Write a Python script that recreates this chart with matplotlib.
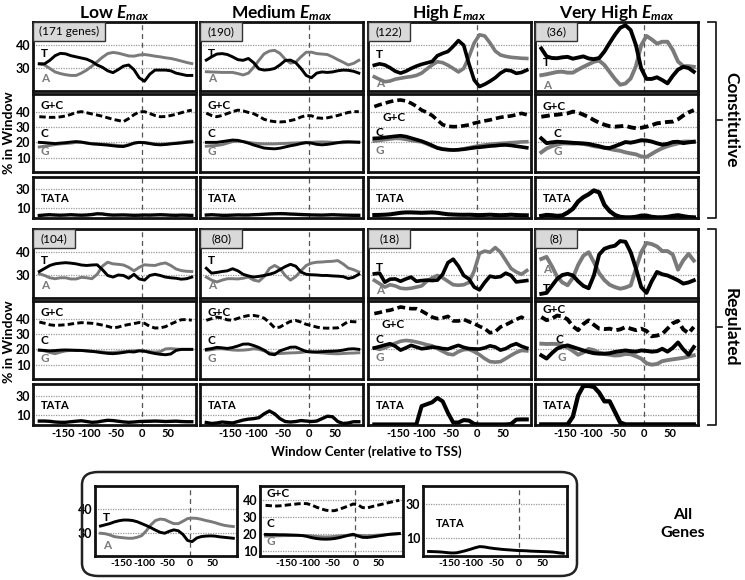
import numpy as np
import matplotlib
matplotlib.use('Agg')
import matplotlib.pyplot as plt
from matplotlib.patches import Rectangle, FancyBboxPatch
from matplotlib.lines import Line2D

# --- fonts ---
plt.rcParams['font.family'] = ['Lato', 'DejaVu Sans']
plt.rcParams['mathtext.fontset'] = 'custom'
plt.rcParams['mathtext.it'] = 'Lato:italic:bold'
plt.rcParams['mathtext.rm'] = 'Lato:bold'

# --- data: window centers (relative to TSS) ---
X = np.arange(-195, 100, 10)

COLUMNS = ['Low', 'Medium', 'High', 'Very High']
COUNTS_CONST = ['(171 genes)', '(190)', '(122)', '(36)']
COUNTS_REG = ['(104)', '(80)', '(18)', '(8)']
XTICKS = [-150, -100, -50, 0, 50]

# Constitutive, Low Emax
CONST_LOW_T = [32, 32, 33.5, 35.5, 36.5, 36.3, 35.5, 35, 34.5, 34, 33, 31.5, 30.5, 29, 28.2,
               29.5, 31, 31.5, 29.5, 26, 24.5, 27.5, 29.3, 29.3, 29.3, 29, 28, 27.5, 27, 27]
CONST_LOW_A = [32, 31.5, 30, 28.5, 27.8, 27.3, 27, 27, 28, 29.3, 31, 32.9, 34.8, 36.4, 36.9,
               36.6, 36, 35.4, 35.3, 35.8, 36, 35.7, 35.3, 35, 34.6, 34.3, 33.8, 33.2, 32.6, 32.1]
CONST_LOW_GC = [36.7, 36.5, 36.3, 36.3, 36.6, 37.2, 38.2, 39.5, 40, 39.3, 38.5, 37.8, 37, 36, 35,
                34.3, 33.5, 35.5, 38, 39.8, 40, 38.8, 37.5, 36.7, 36.8, 37.5, 38.3, 39.3, 40.3, 41]
CONST_LOW_C = [20, 19.8, 19.5, 19.2, 19.5, 19.8, 20.2, 20.5, 20.2, 19.6, 19, 18.8, 18.5, 18.2, 17.8,
               17.4, 17.3, 18.2, 19.5, 20, 19.8, 19.2, 18.6, 18.4, 18.6, 19, 19.3, 19.6, 20, 20.3]
CONST_LOW_G = [17, 17.5, 18, 18.6, 19, 19.2, 19.5, 20, 20, 19.5, 19.2, 19, 18.8, 18.6, 18.3,
               18, 17.8, 18.5, 19.5, 20, 19.8, 19.5, 19, 18.8, 19, 19.3, 19.6, 20, 20.5, 20.8]
CONST_LOW_TATA = [2, 2.5, 2.8, 2.5, 2.3, 2.5, 2.8, 2.5, 2.3, 2.5, 3, 3.8, 3.6, 2.8, 2.4,
                  2.5, 2.6, 2.4, 2.2, 2.3, 2.5, 2.4, 2.6, 2.8, 2.6, 2.3, 2.2, 2.4, 2.3, 2.1]

# Constitutive, Medium Emax
CONST_MED_T = [33.6, 35, 36.2, 36.4, 36, 35, 33.8, 33.5, 34.3, 32.5, 29.8, 29.3, 29.5, 30, 31.5,
               33.4, 33.6, 32.5, 30, 27, 26, 28, 28.5, 28.3, 28.5, 29, 29.3, 29.2, 28.8, 28]
CONST_MED_A = [28.6, 28.5, 28.4, 28.3, 28.3, 28.3, 27.8, 27.2, 28, 30.5, 33.5, 36.3, 37.5, 37.8, 36.5,
               34, 32.3, 32.7, 35, 37, 37, 36.4, 36.2, 36, 35, 33.8, 32.7, 31.5, 32.2, 33.5]
CONST_MED_GC = [39, 37.5, 36.7, 37.5, 38.8, 40, 41, 40.5, 39.5, 38.7, 37, 35, 34, 33.5, 33.3,
                33.5, 34.2, 35, 36.5, 37.5, 37.3, 36, 35.7, 36, 36.7, 37.5, 38.5, 39.5, 40, 40]
CONST_MED_C = [20, 20, 20, 20.5, 21, 21.5, 21.3, 20.5, 19.5, 18.3, 17.3, 16.3, 16, 15.8, 16.2,
               17, 17.8, 18.4, 19.2, 19.8, 19.5, 18.7, 18.4, 18.7, 19.2, 19.8, 20.3, 20.4, 20.2, 20]
CONST_MED_G = [17.5, 17.8, 18, 18.5, 19.5, 20.5, 20.8, 20.5, 20, 19.5, 19.2, 19, 19, 19, 19.2,
               19.3, 19.5, 19.6, 19.8, 20, 20, 20.2, 20.3, 20.2, 20, 19.8, 19.8, 20, 20.2, 20.3]
CONST_MED_TATA = [2.5, 2.8, 2.5, 2.2, 2.2, 2.4, 2.6, 2.5, 2.5, 2.8, 3, 3.3, 3.6, 3.8, 3.9,
                  3.8, 3.5, 3.3, 3, 2.8, 2.6, 2.5, 2.4, 2.6, 2.8, 2.6, 2.4, 2.3, 2.2, 2.2]

# Constitutive, High Emax
CONST_HIGH_T = [31.4, 32, 31.5, 30.3, 28.8, 28, 28.8, 30, 31, 31.8, 32.4, 33, 35.5, 36.5, 37.3,
                39.5, 42, 40, 32, 25, 22.2, 23.2, 24.5, 26, 28, 29.3, 29, 27.9, 28.3, 29.3]
CONST_HIGH_A = [26.4, 25.3, 24.3, 24.6, 25.4, 25.8, 26.2, 26.5, 27, 28, 29.8, 31.5, 32.9, 32.5, 31.4,
                30, 28.5, 30, 35, 41, 44.5, 44, 41, 37.5, 35.8, 35.2, 34.8, 34.6, 34.4, 34.3]
CONST_HIGH_GC = [43.3, 44.5, 45.5, 46.5, 47.3, 47.6, 47, 45.5, 43.5, 41, 39.5, 37.5, 34.5, 31.5, 30.5,
                 30.2, 30.3, 30.8, 31.4, 32.5, 33.3, 34, 34.6, 35.5, 36.3, 36.8, 37.2, 38, 38.9, 38]
CONST_HIGH_C = [22.6, 22.8, 23.2, 23.6, 24, 24.3, 23.8, 22.8, 21.8, 20.8, 19.5, 18, 16.3, 15.5, 15.2,
                15, 15.2, 15.5, 16, 16.5, 16.8, 17.2, 17.6, 17.8, 18.2, 18.3, 18, 17.5, 17, 16.5]
CONST_HIGH_G = [20.9, 21.3, 21.8, 22.2, 22.6, 22.5, 22, 21.3, 20.8, 20.3, 19, 17.5, 16.5, 15.8, 15.3,
                15, 15.2, 15.8, 16.5, 17.2, 17.8, 18.3, 18.7, 19, 19.3, 19.5, 19.8, 20, 20.3, 20.4]
CONST_HIGH_TATA = [2.5, 2.6, 2.8, 3.2, 4, 4.8, 5.2, 5.2, 5, 4.8, 5, 5.2, 4.8, 4, 3.3,
                   3, 2.8, 2.7, 2.8, 2.6, 2.4, 2.6, 2.8, 2.5, 2.3, 2.5, 2.8, 2.5, 2.3, 2.2]

# Constitutive, Very High Emax
CONST_VH_T = [38.6, 35.2, 34.5, 34.4, 34.8, 35, 34.2, 34.7, 35.2, 34.3, 34, 34.5, 37.3, 41, 44.5,
              47.5, 48.6, 46.5, 40, 30, 25.5, 25.5, 26.2, 25, 23.6, 26.8, 29.5, 30.7, 30.2, 28.6]
CONST_VH_A = [27.1, 27.5, 28, 28.5, 28.6, 28.2, 28.2, 29.5, 30.7, 31.8, 32.9, 33.4, 31.5, 28.5, 25.5,
              23, 23.5, 25.7, 31, 40, 44, 42.5, 40.7, 41.5, 41.5, 38, 33, 31, 31, 30.7]
CONST_VH_GC = [36.7, 37.2, 37.8, 38, 38.5, 38.9, 40, 39.5, 38, 36.5, 34.5, 32.8, 31.5, 30.5, 30.2,
               30.5, 30.8, 29.8, 29.2, 29.5, 30.2, 31.2, 32.4, 32.8, 33.3, 33.5, 35, 37.5, 39.5, 41]
CONST_VH_C = [22.6, 19.5, 20, 20.4, 20.2, 20, 19.7, 19.5, 19.3, 19, 18.2, 17.5, 16.5, 16.3, 17.5,
              18.8, 20.2, 19.8, 20.5, 21.4, 21.2, 20.5, 19.4, 18.5, 19, 20.2, 20.4, 19.5, 20, 20.4]
CONST_VH_G = [13.5, 16, 17.5, 18.5, 19.3, 19.3, 19.2, 19.3, 19, 18.3, 17.5, 17, 16.5, 15.7, 15,
              14.5, 13.5, 12.8, 12.2, 10.8, 10.5, 12.5, 14.5, 16.2, 17.5, 18.5, 19.3, 20.5, 20.5, 20.4]
CONST_VH_TATA = [1.5, 2.5, 2.2, 1.5, 2, 5, 9, 16.5, 21, 24, 28, 26, 13, 6.5, 2.5,
                 0.5, 0, 0, 0.5, 1.8, 1.8, 0.5, 0, 0, 0.5, 1.5, 2.2, 1.2, 0.3, 0]

# Regulated, Low Emax
REG_LOW_T = [31.7, 33, 34.3, 35, 35.3, 35.5, 35.3, 35, 34.5, 34.3, 34.5, 34.6, 32.5, 30, 29.3,
             30.2, 30, 28.8, 30.5, 28.5, 28, 30, 30.5, 30, 29.3, 29, 28.8, 28.4, 28.6, 29.3]
REG_LOW_A = [30.7, 30, 29, 28.6, 29, 29, 28.5, 28.5, 29.2, 29, 28.6, 30.5, 34, 35.7, 35,
             34.8, 34.5, 33.5, 32, 33.5, 34.6, 34.4, 34.3, 35, 35.4, 34.3, 32.8, 32.1, 31.8, 31.7]
REG_LOW_GC = [37.8, 37, 36, 35.6, 35.8, 36, 36.5, 37, 37.4, 37.2, 37, 36.5, 35.8, 35, 34,
              34.5, 35.5, 36.2, 36.8, 37.5, 37, 35, 33.9, 34, 34.8, 36.5, 38, 39.3, 39.4, 39]
REG_LOW_C = [19.5, 19.3, 19, 19.2, 19.5, 19.6, 19.5, 19.3, 19.3, 19, 18.7, 18.3, 17.8, 17.4, 17.2,
             17.5, 18, 18.5, 18.3, 19, 18.8, 18, 17.3, 16.8, 16.5, 17, 19.3, 20, 20, 20]
REG_LOW_G = [19.5, 19, 18, 17.2, 18.2, 19, 19.3, 19.5, 19.3, 19, 18.7, 18.5, 18.3, 18, 18,
             18.3, 18.5, 18.8, 19, 19.3, 19, 18.5, 18.2, 18.5, 20.3, 20.5, 20.2, 20, 20, 20]
REG_LOW_TATA = [3.5, 3.5, 3.2, 2.5, 2.2, 2.2, 2.8, 3.3, 3.8, 3, 2.2, 2.5, 3.5, 4.3, 4,
                3.3, 2.6, 2.2, 2.5, 3, 3.2, 3.3, 3.5, 3.3, 3, 3.2, 3.4, 3, 2.8, 2.8]

# Regulated, Medium Emax
REG_MED_T = [33.1, 31, 31.3, 31.7, 32, 32.9, 32, 30.5, 29.8, 29.3, 29.6, 30, 30.5, 31.2, 32.5,
             33.8, 34.8, 34, 31.5, 30.5, 30.3, 30.2, 30, 30, 29.8, 29.7, 29.5, 28.7, 29.2, 30.5]
REG_MED_A = [29.3, 28, 27.2, 28, 28.6, 28.6, 28.5, 28.8, 29.3, 28, 27.5, 29.5, 33, 34.3, 33,
             30, 28, 29.5, 32, 34.3, 35.3, 35.7, 35.8, 36, 36.1, 36.4, 35, 33.2, 32.5, 31.5]
REG_MED_GC = [38.9, 40, 41, 40.5, 39.2, 39, 40.2, 41.3, 42, 42.1, 41.5, 40.3, 37.5, 34, 34.5,
              36.5, 38.2, 38.8, 37.8, 36.3, 35.5, 34.5, 33.9, 33.8, 33.9, 34, 36, 38.2, 38, 37.8]
REG_MED_C = [20, 20.5, 21.3, 21, 20.6, 21.2, 22.2, 23.4, 23.5, 22.5, 21.2, 19.5, 17, 16.5, 19,
             20.2, 21.4, 21.5, 20, 18.6, 18.3, 18.3, 18.5, 18.7, 18.8, 19, 19.5, 20.2, 20.4, 20]
REG_MED_G = [19.3, 19.8, 20.3, 20.4, 20, 19.6, 19.4, 19.5, 19.8, 20.4, 20, 19, 17.8, 17.2, 17.3,
             17.5, 17.7, 17.8, 18, 18.5, 18.4, 18, 17.7, 17.4, 17.2, 17.1, 17.3, 17.5, 17.6, 17.8]
REG_MED_TATA = [2, 1, 1.5, 2.5, 2, 1.5, 3, 4.5, 5.5, 6, 7, 11, 14, 11, 6,
                3, 2.5, 3, 4, 3.5, 3, 3.5, 6, 8.5, 8, 3, 1, 1.5, 2.8, 2.8]

# Regulated, High Emax
REG_HIGH_T = [30.7, 31, 27.1, 28.4, 28.5, 27.5, 28.5, 29.3, 27.5, 27.8, 28, 27.8, 28, 30.5, 35.5,
              37, 34, 30, 28.5, 25, 23.8, 27, 29.7, 29.2, 29.5, 31, 30, 27.2, 27.5, 27.8]
REG_HIGH_A = [27.9, 26.5, 25, 26, 25.5, 24.5, 24.3, 24.5, 25, 25.5, 27.5, 29, 30, 29, 27.5,
              26, 25.8, 26, 27, 32, 39.5, 40.5, 40, 42, 40, 36.5, 33, 31.5, 30.5, 32.1]
REG_HIGH_GC = [43.3, 44, 45, 45.5, 46.5, 47.6, 47, 46.5, 46.5, 45, 43, 41, 40, 40.5, 41.5,
               38.5, 38.5, 39.5, 38, 36.7, 35, 33.5, 30.8, 31.5, 34.6, 36, 37.8, 39.5, 41, 39]
REG_HIGH_C = [20.9, 21.8, 22.8, 23.7, 22, 19.5, 21, 22.6, 21.5, 20.4, 20.8, 21.5, 21.2, 20.5, 20.2,
              21.5, 22.6, 21.3, 20.5, 20.3, 20.2, 21, 22.3, 21.5, 19.5, 20.5, 22.5, 23.7, 22, 20.8]
REG_HIGH_G = [20.9, 20, 21, 22.5, 24, 25.3, 25.8, 25.5, 24.8, 24, 23, 22.3, 20.5, 18.7, 17,
              16.5, 18.5, 19.8, 20, 18.5, 16.5, 14, 12, 11.7, 12, 14, 16.1, 18, 19.3, 19]
REG_HIGH_TATA = [0, 0, 0, 0, 0, 0, 0, 0, 0, 19, 21, 23, 27.5, 24, 12,
                 2, 2, 4.5, 4, 0.5, 0, 0, 0, 0, 0, 0, 0.5, 5, 5.2, 5.2]

# Regulated, Very High Emax
REG_VH_T = [22.1, 22.5, 25.5, 28.5, 30.2, 30.7, 30, 27.5, 25.5, 24.5, 30, 39, 41.5, 42.3, 42.8,
            44.8, 44.5, 40, 33, 25, 22.5, 27.5, 31.5, 30.5, 30, 29, 27.9, 26.5, 27, 27.9]
REG_VH_A = [37.1, 38, 34, 29.5, 27, 25.8, 29, 34.5, 38.5, 40, 35.7, 31, 28, 26, 25,
            24.3, 24.8, 25.7, 33, 40, 44, 43.5, 42.5, 40.5, 40.5, 39, 32.5, 36.5, 39.3, 36.4]
REG_VH_GC = [41.1, 39, 40, 42, 41.5, 39.5, 35, 32.5, 36.5, 38.9, 36, 33.5, 33.2, 33.5, 32.4,
             33, 34.5, 33.5, 32.5, 33.5, 32, 28.5, 29, 30, 33.5, 37, 38.5, 33, 30.5, 34.6]
REG_VH_C = [16.1, 14, 17.5, 20.5, 21.8, 22.6, 21.5, 20.4, 19.3, 18.3, 17.5, 17.2, 17.2, 17.5, 18.3,
            18.8, 19.3, 18.8, 18.5, 19.3, 19, 18.5, 18.8, 20.4, 18.5, 21, 24.5, 20, 16.5, 21.5]
REG_VH_G = [23.7, 23.5, 23.6, 23.5, 22.5, 21.2, 19, 16.5, 18, 20.3, 19.5, 17.8, 17, 16.5, 16,
            16.2, 17, 16.8, 15.5, 14, 11, 10, 10.5, 12.3, 13, 13.5, 14, 14.5, 15.3, 16.1]
REG_VH_TATA = [0, 0, 0, 0, 0, 0, 8, 30, 40, 40, 39, 33, 24, 24, 13,
               2, 0, 0, 0, 0, 0, 0, 0, 0, 0, 0, 0, 0, 0, 0]

# All genes
ALL_T = [33, 33.5, 34, 34.7, 35.2, 35.5, 35.5, 35.3, 34.8, 34, 33.2, 32.3, 31.3, 30.4, 30,
         30.8, 31.4, 31, 29.5, 27, 26.5, 28, 28.6, 28.8, 28.9, 28.8, 28.5, 28.3, 28.1, 27.9]
ALL_A = [30, 29.8, 29.3, 28.6, 28.3, 28.1, 27.9, 27.9, 28.3, 29, 31, 33.5, 35.3, 35.9, 35.7,
         34.8, 34, 34, 35, 36.1, 36.3, 36.2, 35.8, 35.3, 34.9, 34.4, 33.8, 33.3, 33, 32.8]
ALL_GC = [36.8, 36.6, 36.4, 36.5, 36.8, 37.1, 37.4, 37.7, 37.9, 37.8, 37, 35.8, 34.8, 34, 33.6,
          33.7, 34.5, 35.5, 36.5, 37.6, 37.2, 35.5, 35.3, 36, 36.7, 37.3, 38, 38.6, 39.2, 39.8]
ALL_C = [19.7, 19.6, 19.6, 19.5, 19.5, 19.4, 19.3, 19.2, 19, 18.5, 17.8, 17.3, 17, 16.9, 17,
         17.3, 17.8, 18.5, 19.2, 19.8, 18.8, 18, 17.9, 18.2, 18.6, 19, 19.4, 19.8, 20, 20.2]
ALL_G = [18.7, 18.8, 18.8, 18.9, 19, 19, 19.1, 19.1, 19.1, 19, 18.8, 18.5, 18.3, 18.2, 18.3,
         18.5, 18.8, 19, 19.2, 19.3, 19.2, 19, 18.9, 19, 19.2, 19.4, 19.6, 19.8, 20, 20.2]
ALL_TATA = [2, 1.9, 1.8, 1.6, 1.3, 1.1, 1.2, 1.8, 2.5, 3.3, 4.2, 4.9, 4.7, 4.2, 3.8,
            3.5, 3.2, 3, 2.8, 2.6, 2.5, 2.4, 2.2, 2.1, 2, 1.9, 1.8, 1.6, 1.2, 0.9]

CONST = [
    (CONST_LOW_T, CONST_LOW_A, CONST_LOW_GC, CONST_LOW_C, CONST_LOW_G, CONST_LOW_TATA),
    (CONST_MED_T, CONST_MED_A, CONST_MED_GC, CONST_MED_C, CONST_MED_G, CONST_MED_TATA),
    (CONST_HIGH_T, CONST_HIGH_A, CONST_HIGH_GC, CONST_HIGH_C, CONST_HIGH_G, CONST_HIGH_TATA),
    (CONST_VH_T, CONST_VH_A, CONST_VH_GC, CONST_VH_C, CONST_VH_G, CONST_VH_TATA),
]
REG = [
    (REG_LOW_T, REG_LOW_A, REG_LOW_GC, REG_LOW_C, REG_LOW_G, REG_LOW_TATA),
    (REG_MED_T, REG_MED_A, REG_MED_GC, REG_MED_C, REG_MED_G, REG_MED_TATA),
    (REG_HIGH_T, REG_HIGH_A, REG_HIGH_GC, REG_HIGH_C, REG_HIGH_G, REG_HIGH_TATA),
    (REG_VH_T, REG_VH_A, REG_VH_GC, REG_VH_C, REG_VH_G, REG_VH_TATA),
]

# --- layout (pixels) ---
W, H = 745, 580
GREY = '#7a7a7a'
XLIM = (-207, 103)
COL_LEFT = [33, 200, 368, 535]
COL_W = 163
ROWS_CONST = [(22, 91), (94, 172), (177, 218)]
ROWS_REG = [(229, 298), (301, 379), (384, 425)]
LINE_W = [2.1, 2.1, 2.6, 2.8]

# label positions (x, y in data units) for T/A and G+C/C/G, per column
TA_POS_CONST = [((-192, 36.5), (-192, 25.5)), ((-192, 36.5), (-192, 25.5)),
                ((-192, 36), (-192, 23.5)), ((-192, 32.5), (-192, 22.8))]
TA_POS_REG = [((-192, 36.5), (-192, 25.5)), ((-192, 36.5), (-192, 25.5)),
              ((-192, 33.5), (-192, 23.5)), ((-192, 24.5), (-192, 32.5))]
NUC_POS_CONST = [((-192, 44), (-192, 26), (-192, 14)), ((-192, 44), (-192, 26), (-192, 14)),
                 ((-180, 36.5), (-192, 26.5), (-192, 15)), ((-192, 43.5), (-172, 25.5), (-172, 14))]
NUC_POS_REG = [((-192, 44), (-192, 26), (-192, 14)), ((-192, 44), (-192, 26), (-192, 14)),
               ((-182, 36.5), (-192, 26.5), (-192, 15)), ((-192, 46), (-168, 26.5), (-165, 15))]


def px_axes(fig, left, top, right, bottom):
    return fig.add_axes([left / W, 1 - bottom / H, (right - left) / W, (bottom - top) / H])


def style_panel(ax, ylim, grid_vals, show_y, show_x, xsize=8):
    ax.set_xlim(*XLIM)
    ax.set_ylim(*ylim)
    for g in grid_vals:
        ax.axhline(g, color='#9a9a9a', lw=0.9, ls=(0, (1, 1)), zorder=1)
    ax.axvline(0, color='#555555', lw=0.9, ls=(0, (4, 3)), zorder=1)
    for s in ax.spines.values():
        s.set_linewidth(2.0)
        s.set_color('#111111')
    ax.tick_params(length=0, pad=2)
    if show_y:
        ax.set_yticks(grid_vals)
        ax.set_yticklabels([str(g) for g in grid_vals], fontsize=9, fontweight='bold')
    else:
        ax.set_yticks([])
    if show_x:
        ax.set_xticks(XTICKS)
        ax.set_xticklabels([str(t) for t in XTICKS], fontsize=xsize, fontweight='bold')
    else:
        ax.set_xticks([])


def label(ax, pos, text, color='black', size=8.5):
    ax.text(pos[0], pos[1], text, color=color, fontsize=size, fontweight='bold',
            ha='left', va='center', zorder=5)


def draw_group(fig, group, rows, counts, ta_pos, nuc_pos):
    for c, series in enumerate(group):
        t, a, gc, cc, g, tata = series
        lw = LINE_W[c]
        left = COL_LEFT[c]
        right = left + COL_W
        show_y = (c == 0)

        # T / A panel
        ax = px_axes(fig, left, rows[0][0], right, rows[0][1])
        style_panel(ax, (20.3, 50), [30, 40], show_y, False)
        ax.plot(X, a, color=GREY, lw=lw, zorder=3, solid_joinstyle='round')
        ax.plot(X, t, color='black', lw=lw, zorder=4, solid_joinstyle='round')
        label(ax, ta_pos[c][0], 'T')
        label(ax, ta_pos[c][1], 'A', color=GREY)
        bw = 0.44 if counts[c].endswith('genes)') else 0.26
        ax.add_patch(Rectangle((0, 0.725), bw, 0.275, transform=ax.transAxes,
                               facecolor='#d9d9d9', edgecolor='#333333', lw=1.0, zorder=6))
        ax.text(bw / 2, 0.86, counts[c], transform=ax.transAxes, ha='center', va='center',
                fontsize=8.5, zorder=7)

        # G+C / C / G panel
        ax = px_axes(fig, left, rows[1][0], right, rows[1][1])
        style_panel(ax, (0.7, 51.5), [10, 20, 30, 40], show_y, False)
        ax.plot(X, gc, color='black', lw=lw, ls=(0, (2.2, 1.1)), zorder=4)
        ax.plot(X, g, color=GREY, lw=lw, zorder=3, solid_joinstyle='round')
        ax.plot(X, cc, color='black', lw=lw, zorder=4, solid_joinstyle='round')
        label(ax, nuc_pos[c][0], 'G+C')
        label(ax, nuc_pos[c][1], 'C')
        label(ax, nuc_pos[c][2], 'G', color=GREY)

        # TATA panel
        ax = px_axes(fig, left, rows[2][0], right, rows[2][1])
        style_panel(ax, (-0.6, 42), [10, 30], show_y, rows[2][1] > 400)
        ax.plot(X, tata, color='black', lw=lw + 0.3, zorder=4, solid_joinstyle='round')
        label(ax, (-192, 19.5), 'TATA', size=8)


def brace(fig, top, bottom, x=716):
    kw = dict(color='#222222', lw=1.3, transform=fig.transFigure)
    mid = (top + bottom) / 2
    fig.add_artist(Line2D([(x - 8) / W, x / W, x / W, (x - 8) / W],
                          [1 - top / H, 1 - top / H, 1 - bottom / H, 1 - bottom / H], **kw))
    fig.add_artist(Line2D([x / W, (x + 6) / W], [1 - mid / H, 1 - mid / H], **kw))


fig = plt.figure(figsize=(W / 100, H / 100), dpi=100)

# column titles
for c, name in enumerate(COLUMNS):
    cx = COL_LEFT[c] + COL_W / 2
    fig.text(cx / W, 1 - 13 / H, name + r' $E_{max}$', ha='center', va='center',
             fontsize=12.5, fontweight='bold')

draw_group(fig, CONST, ROWS_CONST, COUNTS_CONST, TA_POS_CONST, NUC_POS_CONST)
draw_group(fig, REG, ROWS_REG, COUNTS_REG, TA_POS_REG, NUC_POS_REG)

# y labels
for yc in (133, 342):
    fig.text(9 / W, 1 - yc / H, '% in Window', rotation=90, ha='center', va='center',
             fontsize=10, fontweight='bold')

# braces and group labels
brace(fig, 22, 218)
brace(fig, 229, 425)
fig.text(731 / W, 1 - 120 / H, 'Constitutive', rotation=270, ha='center', va='center',
         fontsize=12.5, fontweight='bold')
fig.text(731 / W, 1 - 327 / H, 'Regulated', rotation=270, ha='center', va='center',
         fontsize=12.5, fontweight='bold')

fig.text(366 / W, 1 - 452 / H, 'Window Center (relative to TSS)', ha='center', va='center',
         fontsize=9.5, fontweight='bold')

# --- All genes box ---
fig.add_artist(FancyBboxPatch((82 / W, 1 - 576 / H), (577 - 82) / W, (576 - 472) / H,
                              boxstyle='round,pad=0,rounding_size=0.022',
                              transform=fig.transFigure, facecolor='none',
                              edgecolor='#222222', lw=1.8))

ax = px_axes(fig, 95, 486, 237, 556)
style_panel(ax, (20.5, 49.7), [30, 40], True, True, xsize=7.5)
ax.plot(X, ALL_A, color=GREY, lw=2.1, zorder=3)
ax.plot(X, ALL_T, color='black', lw=2.1, zorder=4)
label(ax, (-190, 36.5), 'T')
label(ax, (-190, 25), 'A', color=GREY)

ax = px_axes(fig, 260, 486, 403, 556)
style_panel(ax, (7, 48.2), [10, 20, 30, 40], True, True, xsize=7.5)
ax.plot(X, ALL_GC, color='black', lw=2.1, ls=(0, (2.2, 1.1)), zorder=4)
ax.plot(X, ALL_G, color=GREY, lw=2.1, zorder=3)
ax.plot(X, ALL_C, color='black', lw=2.1, zorder=4)
label(ax, (-192, 43.8), 'G+C')
label(ax, (-192, 26), 'C')
label(ax, (-192, 15.5), 'G', color=GREY)

ax = px_axes(fig, 423, 486, 567, 556)
style_panel(ax, (-0.7, 41), [10, 30], True, True, xsize=7.5)
ax.plot(X, ALL_TATA, color='black', lw=2.1, zorder=4)
label(ax, (-180, 18.5), 'TATA', size=8)

fig.text(683 / W, 1 - 524 / H, 'All\nGenes', ha='center', va='center', fontsize=11.5,
         fontweight='bold', linespacing=1.3)

fig.savefig('out.png', dpi=100)
